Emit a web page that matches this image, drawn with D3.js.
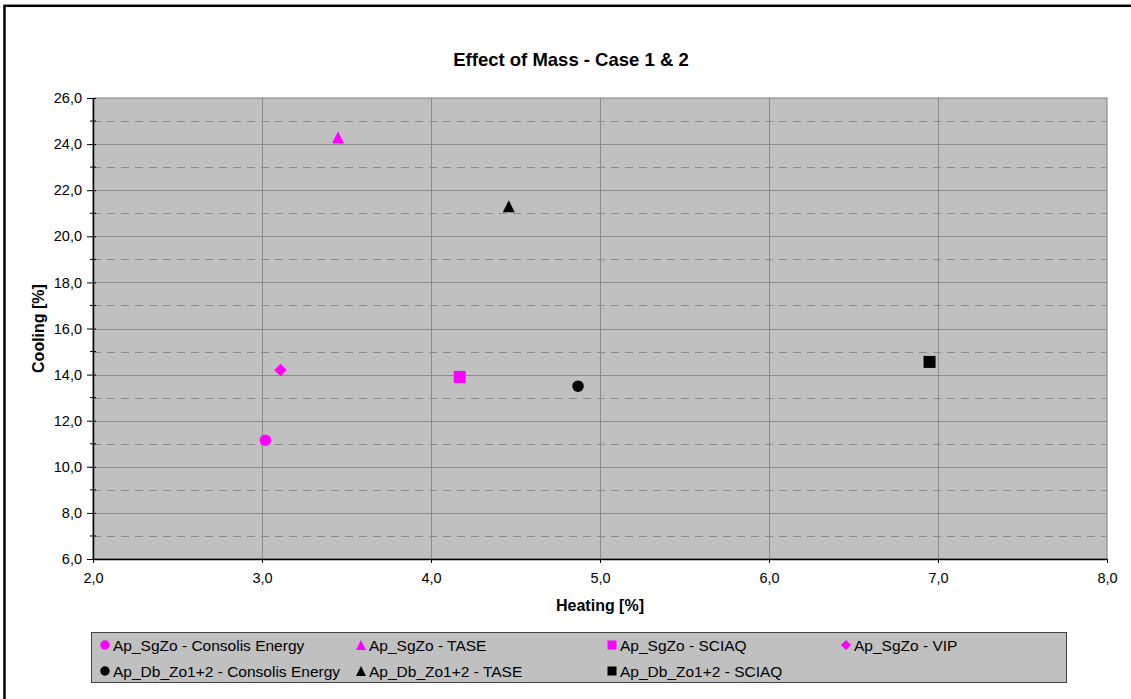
<!DOCTYPE html>
<html>
<head>
<meta charset="utf-8">
<script src="https://cdn.jsdelivr.net/npm/d3@7"></script>
<style>
body { margin: 0; background: #fff; }
svg text { font-family: "Liberation Sans", Arial, sans-serif; fill: #000; }
</style>
</head>
<body>
<div id="chart"></div>
<script>
// series
var seriesNames = [
    "Ap_SgZo - Consolis Energy",
    "Ap_SgZo - TASE",
    "Ap_SgZo - SCIAQ",
    "Ap_SgZo - VIP",
    "Ap_Db_Zo1+2 - Consolis Energy",
    "Ap_Db_Zo1+2 - TASE",
    "Ap_Db_Zo1+2 - SCIAQ"
];
var heating = [3.02, 3.45, 4.17, 3.11, 4.87, 4.46, 6.95];
var cooling = [11.15, 24.3, 13.9, 14.2, 13.5, 21.3, 14.55];
var shapes = ["circle", "triangle", "square", "diamond", "circle", "triangle", "square"];
var colors = ["#ff00ff", "#ff00ff", "#ff00ff", "#ff00ff", "#000000", "#000000", "#000000"];

var xTicks = [2, 3, 4, 5, 6, 7, 8];
var yTicks = [6, 8, 10, 12, 14, 16, 18, 20, 22, 24, 26];
var yMinor = [7, 9, 11, 13, 15, 17, 19, 21, 23, 25];

var width = 1131,
    height = 699,
    plot = { left: 93, top: 98, right: 1107, bottom: 559 };

var svg = d3.select("#chart").append("svg").attr("width", width).attr("height", height);

// outer frame (runs off the bottom/right of the picture)
svg.append("rect").attr("x", 4.5).attr("y", 5.8).attr("width", 1140).attr("height", 720)
    .attr("fill", "#fff").attr("stroke", "#000").attr("stroke-width", 2.5);

var x = d3.scaleLinear().domain([2, 8]).range([plot.left, plot.right]);
var y = d3.scaleLinear().domain([6, 26]).range([plot.bottom, plot.top]);
var fmt = function(d) { return d3.format(".1f")(d).replace(".", ","); };

svg.append("rect").attr("x", plot.left).attr("y", plot.top)
    .attr("width", plot.right - plot.left).attr("height", plot.bottom - plot.top)
    .attr("fill", "#c0c0c0").attr("stroke", "#808080").attr("stroke-width", 1);

// grid
svg.append("g").selectAll("line").data(yMinor).enter().append("line")
    .attr("x1", plot.left).attr("x2", plot.right)
    .attr("y1", function(d) { return Math.round(y(d)) + 0.5; })
    .attr("y2", function(d) { return Math.round(y(d)) + 0.5; })
    .attr("stroke", "#8c8c8c").attr("stroke-dasharray", "8,6");

svg.append("g").selectAll("line").data(yTicks.slice(1, -1)).enter().append("line")
    .attr("x1", plot.left).attr("x2", plot.right)
    .attr("y1", function(d) { return Math.round(y(d)) + 0.5; })
    .attr("y2", function(d) { return Math.round(y(d)) + 0.5; })
    .attr("stroke", "#8c8c8c");

svg.append("g").selectAll("line").data(xTicks.slice(1, -1)).enter().append("line")
    .attr("y1", plot.top).attr("y2", plot.bottom)
    .attr("x1", function(d) { return Math.round(x(d)) + 0.5; })
    .attr("x2", function(d) { return Math.round(x(d)) + 0.5; })
    .attr("stroke", "#8c8c8c");

// axes
var yAxis = d3.axisLeft(y).tickValues(yTicks).tickFormat(fmt).tickSizeInner(6).tickSizeOuter(0).tickPadding(5);
var gy = svg.append("g").attr("transform", "translate(" + plot.left + ",0)").call(yAxis);
gy.selectAll(".tick text").style("font-size", "14.5px").style("font-family", "Liberation Sans, Arial, sans-serif");
gy.selectAll(".tick line").attr("x2", -6).attr("x1", 3).attr("stroke", "#000");
gy.select(".domain").attr("stroke", "#000").attr("stroke-width", 1.5);
gy.selectAll(".minor").data(yMinor).enter().append("line").attr("class", "minor")
    .attr("x1", -3).attr("x2", 3)
    .attr("y1", function(d) { return y(d); }).attr("y2", function(d) { return y(d); })
    .attr("stroke", "#000");

var xAxis = d3.axisBottom(x).tickValues(xTicks).tickFormat(fmt).tickSizeInner(4).tickSizeOuter(0).tickPadding(10);
var gx = svg.append("g").attr("transform", "translate(0," + plot.bottom + ")").call(xAxis);
gx.selectAll(".tick text").style("font-size", "14.5px").style("font-family", "Liberation Sans, Arial, sans-serif");
gx.selectAll(".tick line").attr("stroke", "#000");
gx.select(".domain").attr("stroke", "#000").attr("stroke-width", 1.5);

// titles
svg.append("text").attr("x", 571).attr("y", 66).attr("text-anchor", "middle")
    .style("font-size", "18.5px").style("font-weight", "bold").text("Effect of Mass - Case 1 & 2");
svg.append("text").attr("x", (plot.left + plot.right) / 2).attr("y", 611).attr("text-anchor", "middle")
    .style("font-size", "16px").style("font-weight", "bold").text("Heating [%]");
svg.append("text").attr("transform", "translate(44," + (plot.top + plot.bottom) / 2 + ") rotate(-90)")
    .attr("text-anchor", "middle")
    .style("font-size", "16px").style("font-weight", "bold").text("Cooling [%]");

function markerPath(shape, s) {
    var h = s / 2;
    if (shape == "circle") return "M" + (-h) + ",0A" + h + "," + h + " 0 1,0 " + h + ",0A" + h + "," + h + " 0 1,0 " + (-h) + ",0Z";
    if (shape == "square") return "M" + (-h) + "," + (-h) + "H" + h + "V" + h + "H" + (-h) + "Z";
    if (shape == "triangle") return "M0," + (-h) + "L" + h + "," + h + "L" + (-h) + "," + h + "Z";
    return "M0," + (-h) + "L" + h + ",0L0," + h + "L" + (-h) + ",0Z";
}
var plotSize = { circle: 11.5, triangle: 12, square: 12, diamond: 12.5 };
var legSize = { circle: 9.5, triangle: 10, square: 9, diamond: 10 };

// points
svg.append("g").selectAll("path").data(seriesNames).enter().append("path")
    .attr("transform", function(d, i) { return "translate(" + x(heating[i]) + "," + y(cooling[i]) + ")"; })
    .attr("d", function(d, i) { return markerPath(shapes[i], plotSize[shapes[i]]); })
    .attr("fill", function(d, i) { return colors[i]; });

// legend
var legendCols = [105, 361, 612, 846],
    legendRows = [645, 671];
svg.append("rect").attr("x", 91.5).attr("y", 632.5).attr("width", 975).attr("height", 50)
    .attr("fill", "#c0c0c0").attr("stroke", "#444").attr("stroke-width", 1);

var legend = svg.append("g").selectAll("g").data(seriesNames).enter().append("g")
    .attr("transform", function(d, i) { return "translate(" + legendCols[i % 4] + "," + legendRows[Math.floor(i / 4)] + ")"; });
legend.append("path")
    .attr("d", function(d, i) { return markerPath(shapes[i], legSize[shapes[i]]); })
    .attr("fill", function(d, i) { return colors[i]; });
legend.append("text").attr("x", 8).attr("y", 5.5).style("font-size", "15.5px")
    .text(function(d) { return d; });
</script>
</body>
</html>
